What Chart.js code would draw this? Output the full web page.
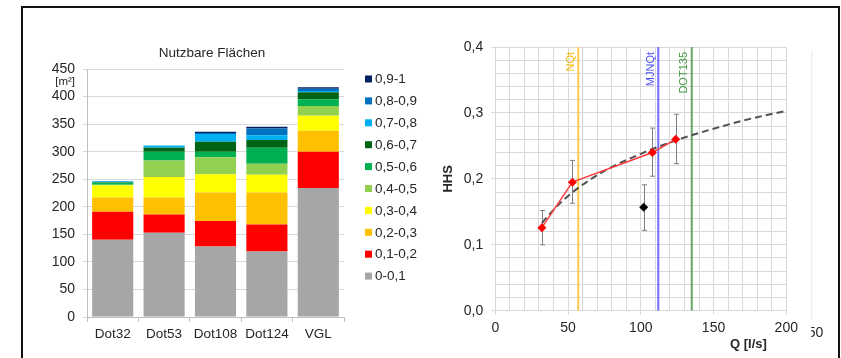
<!DOCTYPE html>
<html><head><meta charset="utf-8">
<script src="https://cdn.jsdelivr.net/npm/chart.js@4/dist/chart.umd.min.js"></script>
<style>
html,body{margin:0;padding:0;background:#fff;}
body{width:841px;height:358px;position:relative;overflow:hidden;}
canvas{position:absolute;top:0;}
#c1{left:0;} #c2{left:420px;}
#frame{position:absolute;left:21px;top:6px;width:815px;height:400px;border:2px solid #111;border-bottom:none;pointer-events:none;}
</style></head><body>
<canvas id="c1" width="420" height="358"></canvas>
<canvas id="c2" width="421" height="358"></canvas>
<div id="frame"></div>
<script>
// ---------- Left chart data: Nutzbare Flächen [m²] ----------
const categories = ['Dot32', 'Dot53', 'Dot108', 'Dot124', 'VGL'];
const classLabels = ['0-0,1', '0,1-0,2', '0,2-0,3', '0,3-0,4', '0,4-0,5', '0,5-0,6', '0,6-0,7', '0,7-0,8', '0,8-0,9', '0,9-1'];
const classColors = ['#A6A6A6', '#FF0000', '#FFC000', '#FFFF00', '#92D050', '#00B050', '#006414', '#00B0F0', '#0070C0', '#002060'];
const area_0_01   = [140, 153, 128, 119, 234];
const area_01_02  = [51, 33, 46, 49, 66];
const area_02_03  = [26, 31, 52, 58, 38];
const area_03_04  = [22, 37, 33, 32, 27];
const area_04_05  = [1, 30, 31, 20, 18];
const area_05_06  = [4, 16, 10, 29, 12];
const area_06_07  = [1, 7, 18, 14, 13];
const area_07_08  = [1, 4, 14, 9, 2];
const area_08_09  = [1, 0, 2, 12, 4];
const area_09_1   = [0, 0, 2, 3, 3];
const areaSeries = [area_0_01, area_01_02, area_02_03, area_03_04, area_04_05, area_05_06, area_06_07, area_07_08, area_08_09, area_09_1];
const leftTitle = 'Nutzbare Flächen';
const leftUnit = '[m²]';
const leftYMin = 0, leftYMax = 450, leftYStep = 50;

// ---------- Right chart data: HHS vs Q ----------
const qDot = [32, 53, 108, 124];
const hhsDot = [0.126, 0.195, 0.240, 0.260];
const hhsDotLow = [0.100, 0.163, 0.204, 0.223];
const hhsDotHigh = [0.152, 0.228, 0.277, 0.298];
const qVgl = [102];
const hhsVgl = [0.157];
const hhsVglLow = [0.122];
const hhsVglHigh = [0.191];
const trendQ = [32, 40, 50, 60, 75, 100, 125, 150, 175, 200];
const trendHHS = [0.133, 0.153, 0.174, 0.191, 0.212, 0.238, 0.259, 0.276, 0.291, 0.303];
const refLabels = ['NQt', 'MJNQt', 'DOT135'];
const refQ = [57, 112, 135];
const refLineColors = ['#FFC94D', '#6E6EFF', '#62A862'];
const refTextColors = ['#F5B800', '#4B4BF5', '#3F993F'];
const rightXMin = 0, rightXMax = 200, rightXStep = 10, rightXLabelEvery = 50;
const rightYMin = 0, rightYMax = 0.4, rightYStep = 0.02, rightYLabelEvery = 0.1;
const xTitle = 'Q [l/s]';
const yTitle = 'HHS';
const ghostLabel = '250';

const FONT = "'Liberation Sans', Arial, Helvetica, sans-serif";
const TXT = '#262626';
Chart.defaults.font.family = FONT;
Chart.defaults.color = TXT;

// ---------- Left chart ----------
const sideLegend = {
  id: 'sideLegend',
  afterDraw(chart) {
    const {ctx, chartArea} = chart;
    const ds = chart.data.datasets;
    ctx.save();
    ctx.font = '13.5px ' + FONT;
    ctx.textBaseline = 'middle';
    ctx.textAlign = 'left';
    const x0 = chartArea.right + 21, y0 = chartArea.top + 10, step = 21.9;
    for (let k = 0; k < ds.length; k++) {
      const d = ds[ds.length - 1 - k];
      const y = y0 + k * step;
      ctx.fillStyle = d.backgroundColor;
      ctx.fillRect(x0, y - 3.5, 7, 7);
      ctx.fillStyle = TXT;
      ctx.fillText(d.label, x0 + 10, y + 0.5);
    }
    ctx.restore();
  }
};
const titleAndUnit = {
  id: 'titleAndUnit',
  afterDraw(chart) {
    const {ctx, chartArea, scales} = chart;
    ctx.save();
    ctx.fillStyle = TXT;
    ctx.textBaseline = 'middle';
    ctx.font = '13.5px ' + FONT;
    ctx.textAlign = 'center';
    ctx.fillText(leftTitle, (chartArea.left + chartArea.right) / 2 - 3.5, chartArea.top - 16.2);
    ctx.font = '11.5px ' + FONT;
    ctx.textAlign = 'right';
    ctx.fillText(leftUnit, chartArea.left - 12, scales.y.getPixelForValue(leftYMax) + 13);
    ctx.restore();
  }
};

new Chart(document.getElementById('c1'), {
  type: 'bar',
  data: {
    labels: categories,
    datasets: classLabels.map((lab, i) => ({
      label: lab, data: areaSeries[i], backgroundColor: classColors[i],
      borderWidth: 0, stack: 's', barPercentage: 0.8, categoryPercentage: 1
    }))
  },
  options: {
    responsive: false, animation: false, devicePixelRatio: 1,
    layout: {padding: {left: 51, right: 76, top: 69, bottom: 14}},
    plugins: {
      legend: {display: false},
      tooltip: {enabled: false},
      title: {display: false}
    },
    scales: {
      x: {
        stacked: true,
        afterFit: s => { s.height = 27; },
        grid: {offset: true, drawOnChartArea: false, color: '#BFBFBF', tickLength: 5},
        border: {color: '#BFBFBF'},
        ticks: {font: {size: 13.5}, color: TXT, padding: 4, maxRotation: 0}
      },
      y: {
        stacked: true, min: leftYMin, max: leftYMax,
        afterFit: s => { s.width = 36; },
        grid: {color: '#D9D9D9', tickLength: 4},
        border: {color: '#BFBFBF'},
        ticks: {stepSize: leftYStep, font: {size: 14}, color: TXT, padding: 8}
      }
    }
  },
  plugins: [sideLegend, titleAndUnit]
});

// ---------- Right chart ----------
const errorBars = {
  id: 'errorBars',
  beforeDatasetsDraw(chart) {
    const {ctx, scales: {x, y}} = chart;
    ctx.save();
    ctx.strokeStyle = '#7F7F7F';
    ctx.lineWidth = 1;
    chart.data.datasets.forEach(ds => {
      if (!ds.errLow) return;
      ds.data.forEach((p, i) => {
        const px = Math.round(x.getPixelForValue(p.x)) + 0.5;
        const yl = y.getPixelForValue(ds.errLow[i]);
        const yh = y.getPixelForValue(ds.errHigh[i]);
        ctx.beginPath();
        ctx.moveTo(px, yl); ctx.lineTo(px, yh);
        ctx.moveTo(px - 2.5, yl); ctx.lineTo(px + 2.5, yl);
        ctx.moveTo(px - 2.5, yh); ctx.lineTo(px + 2.5, yh);
        ctx.stroke();
      });
    });
    ctx.restore();
  }
};
const refLineLabels = {
  id: 'refLineLabels',
  afterDatasetsDraw(chart) {
    const {ctx, chartArea, scales: {x}} = chart;
    ctx.save();
    ctx.font = '11px ' + FONT;
    ctx.textAlign = 'right';
    ctx.textBaseline = 'middle';
    chart.data.datasets.forEach(ds => {
      if (!ds.refLabel) return;
      const px = x.getPixelForValue(ds.data[0].x);
      ctx.save();
      ctx.translate(px - 7.5, chartArea.top + 5);
      ctx.rotate(-Math.PI / 2);
      ctx.fillStyle = ds.refTextColor;
      ctx.fillText(ds.refLabel, 0, 0);
      ctx.restore();
    });
    ctx.restore();
  }
};
const extras = {
  id: 'extras',
  afterDraw(chart) {
    const {ctx, chartArea} = chart;
    ctx.save();
    ctx.font = 'bold 13px ' + FONT;
    ctx.fillStyle = TXT;
    ctx.textAlign = 'right';
    ctx.textBaseline = 'middle';
    ctx.fillText(xTitle, chartArea.right - 19.5, chartArea.bottom + 34);
    const gx = chartArea.right + 25;
    ctx.strokeStyle = '#E6E6E6';
    ctx.lineWidth = 1;
    ctx.beginPath();
    ctx.moveTo(gx + 0.5, chartArea.top + 3);
    ctx.lineTo(gx + 0.5, chartArea.bottom + 9);
    ctx.stroke();
    ctx.beginPath();
    ctx.rect(gx, chartArea.bottom, 60, 40);
    ctx.clip();
    ctx.font = '14px ' + FONT;
    ctx.fillStyle = TXT;
    ctx.textAlign = 'right';
    ctx.fillText(ghostLabel, gx + 12, chartArea.bottom + 22);
    ctx.restore();
  }
};

const isMultiple = (v, step) => Math.abs(v / step - Math.round(v / step)) < 1e-6;

new Chart(document.getElementById('c2'), {
  type: 'line',
  data: {
    datasets: [
      {
        label: 'Dot', data: qDot.map((q, i) => ({x: q, y: hhsDot[i]})),
        errLow: hhsDotLow, errHigh: hhsDotHigh,
        borderColor: '#FF3B3B', borderWidth: 1.5, backgroundColor: '#FF0000',
        pointStyle: 'rectRot', pointRadius: 4.5, pointBorderWidth: 0, order: 0
      },
      {
        label: 'VGL', data: qVgl.map((q, i) => ({x: q, y: hhsVgl[i]})),
        errLow: hhsVglLow, errHigh: hhsVglHigh, showLine: false,
        borderColor: '#000', backgroundColor: '#000',
        pointStyle: 'rectRot', pointRadius: 4.5, pointBorderWidth: 0, order: 1
      },
      {
        label: 'Trend', data: trendQ.map((q, i) => ({x: q, y: trendHHS[i]})),
        borderColor: '#505050', borderWidth: 2, borderDash: [7, 4],
        cubicInterpolationMode: 'monotone', pointRadius: 0, order: 2
      },
      ...refQ.map((q, i) => ({
        label: refLabels[i], refLabel: refLabels[i], refTextColor: refTextColors[i],
        data: [{x: q, y: rightYMin}, {x: q, y: rightYMax}],
        borderColor: refLineColors[i], borderWidth: 2, pointRadius: 0, order: 5
      }))
    ]
  },
  options: {
    responsive: false, animation: false, devicePixelRatio: 1,
    layout: {padding: {left: 15, right: 54.7, top: 47, bottom: 17.3}},
    plugins: {legend: {display: false}, tooltip: {enabled: false}},
    scales: {
      x: {
        type: 'linear', min: rightXMin, max: rightXMax,
        afterFit: s => { s.height = 30; },
        grid: {color: '#D9D9D9', tickLength: 4,
          tickColor: c => (c.tick && isMultiple(c.tick.value, rightXLabelEvery)) ? '#D9D9D9' : 'rgba(0,0,0,0)'},
        border: {color: '#D9D9D9'},
        ticks: {stepSize: rightXStep, autoSkip: false, maxTicksLimit: 100, maxRotation: 0,
          font: {size: 14}, color: TXT, padding: 5.4,
          callback: v => isMultiple(v, rightXLabelEvery) ? String(Math.round(v)) : ''}
      },
      y: {
        min: rightYMin, max: rightYMax,
        afterFit: s => { s.width = 60.3; },
        title: {display: true, text: yTitle, color: TXT, font: {size: 13, weight: 'bold', lineHeight: 1.2}, padding: {top: 5.5, bottom: 0}},
        grid: {color: '#D9D9D9', tickLength: 4,
          tickColor: c => (c.tick && isMultiple(c.tick.value, rightYLabelEvery)) ? '#D9D9D9' : 'rgba(0,0,0,0)'},
        border: {color: '#D9D9D9'},
        ticks: {stepSize: rightYStep, autoSkip: false, maxTicksLimit: 100,
          font: {size: 14}, color: TXT, padding: 8,
          callback: v => isMultiple(v, rightYLabelEvery) ? v.toFixed(1).replace('.', ',') : ''}
      }
    }
  },
  plugins: [errorBars, refLineLabels, extras]
});
</script>
</body></html>
